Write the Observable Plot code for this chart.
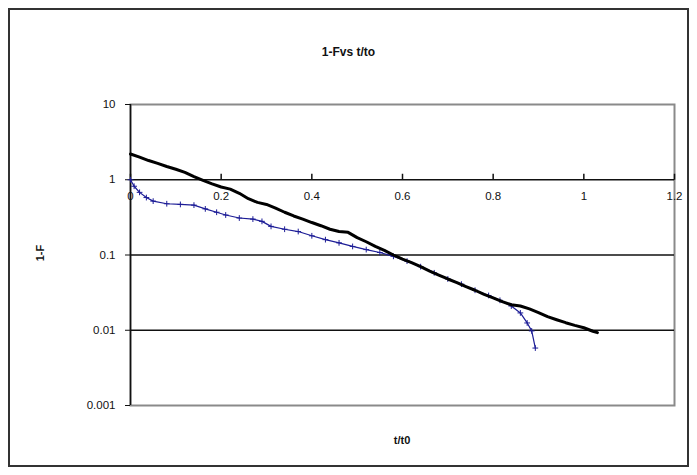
<!DOCTYPE html>
<html><head><meta charset="utf-8">
<script src="https://cdn.jsdelivr.net/npm/d3@7"></script>
<script src="https://cdn.jsdelivr.net/npm/@observablehq/plot@0.6"></script>
<style>
body{margin:0;background:#fff;font-family:"Liberation Sans",Arial,sans-serif;}
#wrap{position:relative;width:697px;height:475px;overflow:hidden;background:#fff;}
#border{position:absolute;left:8px;top:8px;width:677px;height:455px;border:2px solid #333;}
#title{position:absolute;left:0;width:697px;top:45px;text-align:center;font-weight:bold;font-size:12px;color:#111;}
#ylab{position:absolute;left:40px;top:253px;transform:translate(-50%,-50%) rotate(-90deg);font-weight:bold;font-size:11px;color:#111;white-space:nowrap;}
#xlab{position:absolute;left:402px;top:440px;transform:translate(-50%,-50%);font-weight:bold;font-size:11px;color:#111;}
#chart{position:absolute;left:0;top:0;}
</style></head>
<body>
<div id="wrap">
<div id="border"></div>
<div id="title">1-Fvs t/to</div>
<div id="chart"></div>
<div id="ylab">1-F</div>
<div id="xlab">t/t0</div>
</div>
<script>
const blackT = [0,0.02,0.04,0.06,0.08,0.10,0.12,0.14,0.16,0.18,0.20,0.22,0.24,0.26,0.28,0.30,0.32,0.34,0.36,0.38,0.40,0.42,0.44,0.46,0.48,0.50,0.52,0.54,0.56,0.58,0.60,0.62,0.64,0.66,0.68,0.70,0.72,0.74,0.76,0.78,0.80,0.82,0.84,0.86,0.88,0.90,0.92,0.94,0.96,0.98,1.00,1.02,1.03];
const blackY = [2.2,2.0,1.8,1.65,1.5,1.38,1.25,1.1,0.98,0.88,0.8,0.75,0.66,0.56,0.5,0.47,0.42,0.37,0.33,0.3,0.27,0.245,0.22,0.205,0.2,0.17,0.15,0.13,0.115,0.1,0.088,0.079,0.07,0.061,0.054,0.048,0.043,0.038,0.034,0.03,0.027,0.024,0.0218,0.021,0.0192,0.0172,0.0152,0.0138,0.0126,0.0116,0.0108,0.0097,0.0093];
const blueT = [0,0.008,0.02,0.035,0.05,0.08,0.11,0.14,0.165,0.19,0.21,0.24,0.27,0.29,0.31,0.34,0.37,0.40,0.43,0.46,0.49,0.52,0.55,0.58,0.61,0.64,0.67,0.70,0.73,0.76,0.79,0.815,0.84,0.86,0.875,0.885,0.893];
const blueY = [1.0,0.82,0.68,0.58,0.52,0.48,0.47,0.46,0.41,0.37,0.34,0.31,0.3,0.28,0.24,0.22,0.205,0.18,0.16,0.145,0.13,0.118,0.108,0.096,0.083,0.07,0.058,0.048,0.041,0.034,0.029,0.025,0.021,0.017,0.0125,0.0098,0.0058];
const yTicks = [10,1,0.1,0.01,0.001];
const yTickLabels = ["10","1","0.1","0.01","0.001"];
const xTicks = [0,0.2,0.4,0.6,0.8,1,1.2];
const xTickLabels = ["0","0.2","0.4","0.6","0.8","1","1.2"];
const gridValues = [1,0.1,0.01];

const black = blackT.map((t,i)=>({t, v: blackY[i]}));
const blue = blueT.map((t,i)=>({t, v: blueY[i]}));
const yLabelMap = new Map(yTicks.map((d,i)=>[d, yTickLabels[i]]));
const upTick = {draw(ctx){ ctx.moveTo(0,0); ctx.lineTo(0,-6); }};

const chart = Plot.plot({
  width: 697, height: 475,
  marginLeft: 130, marginRight: 23, marginTop: 104, marginBottom: 70,
  style: {fontFamily: '"Liberation Sans", Arial, sans-serif', fontSize: "11px", color: "#111", background: "transparent"},
  x: {domain: [0, 1.2], label: null, axis: null},
  y: {type: "log", domain: [0.001, 10], label: null, axis: null},
  marks: [
    Plot.frame({stroke: "#8a8a8a", strokeWidth: 2}),
    Plot.ruleY(gridValues, {stroke: "#111", strokeWidth: 1.5}),
    Plot.ruleX([0], {stroke: "#111", strokeWidth: 1.5}),
    Plot.axisY(yTicks, {anchor: "left", tickSize: 5, tickPadding: 10, tickFormat: d => yLabelMap.get(d), stroke: "#111", fill: "#111", fontSize: 11.5, label: null}),
    Plot.dot(xTicks, {x: d => d, y: () => 1, symbol: upTick, stroke: "#111", fill: "none", strokeWidth: 1.5}),
    Plot.text(xTicks, {x: d => d, y: () => 1, dy: 17, text: (d, i) => xTickLabels[i], fill: "#111", fontSize: 11.5}),
    Plot.line(blue, {x: "t", y: "v", stroke: "#1c1c96", strokeWidth: 1.2}),
    Plot.dot(blue, {x: "t", y: "v", symbol: "plus", r: 2, stroke: "#1c1c96", strokeWidth: 1}),
    Plot.line(black, {x: "t", y: "v", stroke: "#000", strokeWidth: 3})
  ]
});
document.getElementById("chart").appendChild(chart);
</script>
</body></html>
